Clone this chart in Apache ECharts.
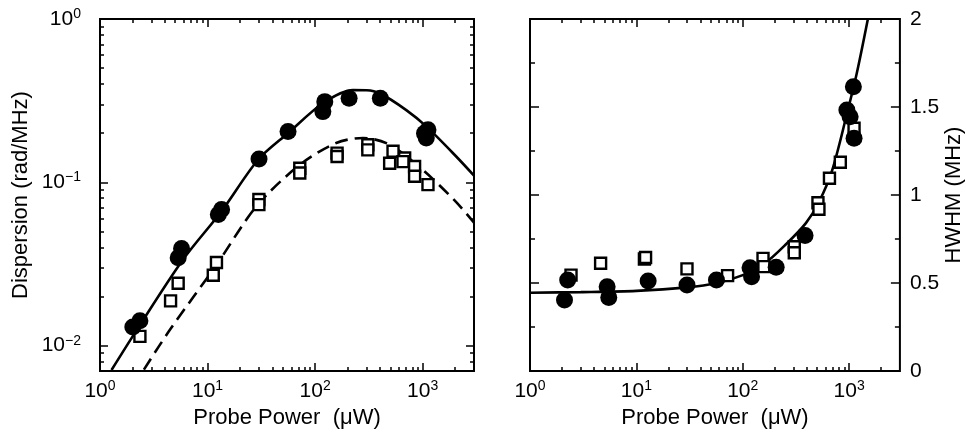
<!DOCTYPE html>
<html>
<head>
<meta charset="utf-8">
<script src="https://cdn.jsdelivr.net/npm/echarts@6/dist/echarts.min.js"></script>
<style>
html, body { margin: 0; background: #fff; }
#chart { width: 966px; height: 438px; }
</style>
</head>
<body>
<div id="chart"></div>
<script>
// left panel: dispersion vs probe power (log-log)
var dispCircP = [2.02, 2.35, 5.33, 5.73, 12.6, 13.5, 30.1, 56, 118, 123, 207, 404, 1040, 1120, 1080];
var dispCircV = [0.0130, 0.0142, 0.0346, 0.0393, 0.0635, 0.0682, 0.139, 0.205, 0.271, 0.312, 0.327, 0.327, 0.200, 0.210, 0.187];
var dispSqP = [2.35, 4.53, 5.33, 11.3, 12.1, 30, 30, 72, 72, 160, 160, 309, 309, 530, 493, 680, 656, 841, 841, 1120];
var dispSqV = [0.0114, 0.0188, 0.0241, 0.027, 0.0323, 0.0785, 0.0731, 0.122, 0.114, 0.151, 0.144, 0.170, 0.158, 0.155, 0.131, 0.141, 0.134, 0.125, 0.109, 0.0968];
var dispFitP = [1.28, 2.2, 5.94, 13.5, 29.5, 56, 118, 225, 300, 398, 704, 1080, 2050, 3000];
var dispFitV = [0.0071, 0.0125, 0.0338, 0.0666, 0.1375, 0.200, 0.305, 0.367, 0.366, 0.351, 0.277, 0.220, 0.144, 0.110];
var dispFit2P = [2.56, 4.5, 12, 28.5, 72, 157, 279, 493, 1005, 2000, 3000];
var dispFit2V = [0.00714, 0.0126, 0.031, 0.0714, 0.128, 0.174, 0.187, 0.170, 0.119, 0.077, 0.0566];

// right panel: HWHM vs probe power
var hwCircP = [2.11, 2.26, 5.31, 5.5, 12.9, 29.9, 56.6, 117, 121, 206, 385, 952, 1021, 1096, 1112];
var hwCircV = [0.403, 0.517, 0.479, 0.417, 0.511, 0.489, 0.517, 0.587, 0.536, 0.59, 0.77, 1.483, 1.445, 1.615, 1.322];
var hwSqP = [2.43, 4.61, 11.9, 12.2, 29.9, 72, 155, 158, 305, 305, 509, 520, 653, 826, 1112];
var hwSqV = [0.545, 0.612, 0.636, 0.645, 0.58, 0.542, 0.64, 0.593, 0.706, 0.672, 0.956, 0.919, 1.095, 1.186, 1.379];
var hwFitP = [1, 3, 10, 30, 57, 100, 160, 255, 392, 520, 692, 952, 1178, 1500];
var hwFitV = [0.445, 0.448, 0.455, 0.475, 0.5, 0.545, 0.61, 0.72, 0.84, 0.96, 1.14, 1.46, 1.69, 2.0];

// axes
var powerMin = 1, powerMax = 3000;
var powerDecades = [1, 10, 100, 1000];
var dispMin = 0.007, dispMax = 1;
var dispDecades = [0.01, 0.1, 1];
var hwMajor = [0, 0.5, 1, 1.5, 2];
var hwMinor = [0.25, 0.75, 1.25, 1.75];

var FONT = 'Liberation Sans, Arial, Helvetica, sans-serif';

function lg(v) { return Math.log10(v); }
function logPts(xs, ys) { return xs.map(function (x, i) { return [lg(x), lg(ys[i])]; }); }
function semiPts(xs, ys) { return xs.map(function (x, i) { return [lg(x), ys[i]]; }); }
function minorsOf(decades, lo, hi) {
    var out = [];
    decades.forEach(function (d) {
        for (var k = 2; k <= 9; k++) {
            var v = d * k;
            if (v > lo * 1.0001 && v < hi * 0.9999) out.push(lg(v));
        }
    });
    return out;
}

var powerMinors = minorsOf(powerDecades, powerMin, powerMax);
var dispMinors = minorsOf([0.001, 0.01, 0.1], dispMin, dispMax);

var rich = {
    b: { fontSize: 21, lineHeight: 24, fontFamily: FONT, color: '#000' },
    s: { fontSize: 14, lineHeight: 14, verticalAlign: 'top', fontFamily: FONT, color: '#000' }
};
function powLabel(v) {
    var e = Math.round(v);
    return '{b|10}{s|' + (e < 0 ? '\u2212' + (-e) : e) + '}';
}

function axis(grid, pos, range, ticks, len, extra) {
    var a = {
        type: 'value', gridIndex: grid, position: pos, min: range[0], max: range[1],
        axisLine: { show: false, onZero: false },
        axisTick: { show: true, inside: true, length: len, customValues: ticks,
            lineStyle: { color: '#000', width: 1.5 } },
        axisLabel: { show: false },
        splitLine: { show: false }
    };
    return Object.assign(a, extra || {});
}

var nameStyle = { fontSize: 22, fontFamily: FONT, color: '#000' };
var xRange = [lg(powerMin), lg(powerMax)];
var dRange = [lg(dispMin), lg(dispMax)];
var xMajor = powerDecades.map(lg);
var dMajor = dispDecades.map(lg);

function powerXAxes(grid) {
    return [
        axis(grid, 'bottom', xRange, xMajor, 8, {
            axisLabel: { show: true, customValues: xMajor, margin: 8, formatter: powLabel, rich: rich },
            name: 'Probe Power  (\u03bcW)', nameLocation: 'middle', nameGap: 36, nameTextStyle: nameStyle
        }),
        axis(grid, 'bottom', xRange, powerMinors, 4),
        axis(grid, 'top', xRange, xMajor, 8),
        axis(grid, 'top', xRange, powerMinors, 4)
    ];
}

var lineBase = { color: '#000', width: 2.6 };
var squareStyle = { color: '#fff', borderColor: '#000', borderWidth: 2.4, opacity: 1 };
var dotStyle = { color: '#000', opacity: 1 };

var chart = echarts.init(document.getElementById('chart'), null, { renderer: 'canvas' });
chart.setOption({
    animation: false,
    backgroundColor: '#fff',
    grid: [
        { left: 100, top: 19, width: 374, height: 352, show: true, borderColor: '#000', borderWidth: 2 },
        { left: 530, top: 19, width: 376, height: 352, show: true, borderColor: '#000', borderWidth: 2 }
    ],
    xAxis: powerXAxes(0).concat(powerXAxes(1)),
    yAxis: [
        axis(0, 'left', dRange, dMajor, 8, {
            axisLabel: { show: true, customValues: dMajor, margin: 19, formatter: powLabel, rich: rich },
            name: 'Dispersion (rad/MHz)', nameLocation: 'middle', nameRotate: 90, nameGap: 68, nameTextStyle: nameStyle
        }),
        axis(0, 'left', dRange, dispMinors, 4),
        axis(0, 'right', dRange, dMajor, 8),
        axis(0, 'right', dRange, dispMinors, 4),
        axis(1, 'right', [0, 2], hwMajor, 9, {
            interval: 0.5,
            axisLabel: { show: true, customValues: hwMajor, margin: 10, fontSize: 21, fontFamily: FONT, color: '#000' },
            name: 'HWHM (MHz)', nameLocation: 'middle', nameRotate: 90, nameGap: 42, nameTextStyle: nameStyle
        }),
        axis(1, 'right', [0, 2], hwMinor, 5),
        axis(1, 'left', [0, 2], hwMajor, 9),
        axis(1, 'left', [0, 2], hwMinor, 5)
    ],
    series: [
        { type: 'line', xAxisIndex: 0, yAxisIndex: 0, data: logPts(dispFitP, dispFitV), smooth: 0.3,
          symbol: 'none', lineStyle: lineBase, z: 2 },
        { type: 'line', xAxisIndex: 0, yAxisIndex: 0, data: logPts(dispFit2P, dispFit2V), smooth: 0.3,
          symbol: 'none', lineStyle: { color: '#000', width: 2.6, type: [13, 7] }, z: 2 },
        { type: 'scatter', xAxisIndex: 0, yAxisIndex: 0, data: logPts(dispSqP, dispSqV), symbol: 'rect',
          symbolSize: 11, itemStyle: squareStyle, z: 3 },
        { type: 'scatter', xAxisIndex: 0, yAxisIndex: 0, data: logPts(dispCircP, dispCircV), symbol: 'circle',
          symbolSize: 17, itemStyle: dotStyle, z: 4 },

        { type: 'line', xAxisIndex: 4, yAxisIndex: 4, data: semiPts(hwFitP, hwFitV), smooth: 0.3,
          symbol: 'none', lineStyle: lineBase, z: 2 },
        { type: 'scatter', xAxisIndex: 4, yAxisIndex: 4, data: semiPts(hwSqP, hwSqV), symbol: 'rect',
          symbolSize: 11, itemStyle: squareStyle, z: 3 },
        { type: 'scatter', xAxisIndex: 4, yAxisIndex: 4, data: semiPts(hwCircP, hwCircV), symbol: 'circle',
          symbolSize: 17, itemStyle: dotStyle, z: 4 }
    ]
});
</script>
</body>
</html>
